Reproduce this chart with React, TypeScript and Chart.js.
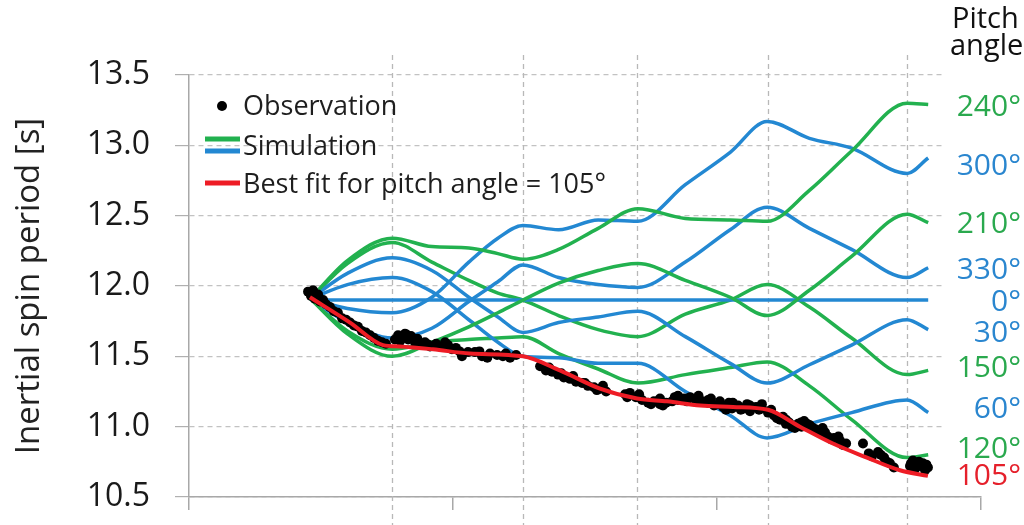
import React, { useEffect, useRef } from 'react';
import { Chart, registerables } from 'chart.js';

Chart.register(...registerables);

// ---------- data ----------
// common time knots of the simulated curves (arbitrary time units, axis 0..300)
const SIM_X = [46, 60, 77, 92, 106, 117, 126.5, 140, 155, 170, 188, 205, 219, 235, 251, 272, 280];

const SIM_240 = [11.91, 12.18, 12.34, 12.28, 12.27, 12.23, 12.19, 12.26, 12.41, 12.55, 12.48, 12.47, 12.46, 12.68, 12.96, 13.30, 13.29];
const SIM_300 = [11.91, 11.84, 11.81, 11.92, 12.17, 12.34, 12.43, 12.40, 12.47, 12.46, 12.72, 12.95, 13.17, 13.05, 12.98, 12.80, 12.91];
const SIM_210 = [11.91, 11.66, 11.50, 11.60, 11.71, 11.81, 11.90, 12.02, 12.11, 12.16, 12.04, 11.92, 11.79, 11.97, 12.21, 12.51, 12.45];
const SIM_330 = [11.91, 11.74, 11.63, 11.70, 11.89, 12.03, 12.15, 12.06, 12.01, 11.99, 12.17, 12.40, 12.56, 12.41, 12.26, 12.06, 12.13];
const SIM_0 = [11.9, 11.9, 11.9, 11.9, 11.9, 11.9, 11.9, 11.9, 11.9, 11.9, 11.9, 11.9, 11.9, 11.9, 11.9, 11.9, 11.9];
const SIM_30 = [11.91, 12.09, 12.20, 12.11, 11.92, 11.78, 11.67, 11.74, 11.78, 11.82, 11.64, 11.45, 11.31, 11.44, 11.58, 11.76, 11.69];
const SIM_150 = [11.91, 12.16, 12.31, 12.17, 12.04, 11.95, 11.90, 11.79, 11.69, 11.64, 11.80, 11.90, 12.01, 11.85, 11.63, 11.37, 11.40];
const SIM_60 = [11.91, 12.01, 12.06, 11.96, 11.76, 11.60, 11.50, 11.49, 11.45, 11.45, 11.25, 11.08, 10.92, 11.02, 11.10, 11.19, 11.10];
const SIM_120 = [11.91, 11.68, 11.55, 11.60, 11.62, 11.63, 11.64, 11.52, 11.41, 11.31, 11.37, 11.42, 11.46, 11.29, 11.05, 10.78, 10.80];

const FIT_X = [45.8, 61.0, 73.5, 79.9, 92.4, 106.4, 126.5, 140.5, 155.7, 169.7, 181.1, 193.6, 206.1, 219.3, 231.4, 243.9, 256.8, 269.3, 279.9];
const FIT_105 = [11.92, 11.74, 11.58, 11.57, 11.55, 11.52, 11.50, 11.40, 11.27, 11.20, 11.18, 11.15, 11.14, 11.12, 11.00, 10.88, 10.78, 10.69, 10.65];

const OBS_X = [
  45.1, 46.2, 47.0, 47.7, 48.9, 49.6, 50.8, 51.9, 53.4, 54.9, 56.4, 58.0, 59.5, 61.0, 62.5, 64.0, 65.5, 67.0, 68.6, 70.1, 71.6, 73.1, 74.6,
  78.0, 79.2, 80.7, 81.8, 83.0, 84.1, 85.6, 87.5, 89.4, 91.3, 93.6, 95.8, 98.1, 99.6, 101.1, 103.4, 105.7,
  108.3, 111.0, 114.0, 116.7, 118.9, 121.6, 123.9,
  133.0, 135.2, 137.5, 139.8, 142.0, 144.3, 146.6, 148.9, 151.1, 153.4, 155.7, 158.0,
  165.2, 167.0, 169.3, 171.6, 173.9, 176.1, 178.4, 180.7, 183.0, 185.2, 187.5, 189.8, 192.0, 194.3, 196.6, 198.9, 201.1, 203.4, 205.7, 208.0,
  210.2, 212.5, 214.8, 217.0, 219.3, 221.6, 223.9, 226.1, 228.4, 230.7, 233.0, 235.2, 237.5, 239.8, 242.0, 244.3, 246.6, 248.9,
  255.3, 258.7, 261.0, 263.3, 265.5, 267.0,
  273.1, 274.2, 275.4, 276.5, 277.7, 278.8, 279.9,
  178.4, 185.2, 196.6, 201.1, 206.0, 212.5, 217.0, 226.1, 232.0, 240.0, 246.0,
  80.0, 82.4, 86.5, 90.5, 97.0, 102.5, 110.0, 113.0, 120.0,
  136.4, 141.0, 145.5, 150.0, 154.5, 156.8,
  166.0, 170.5, 175.0, 179.5, 184.0, 188.6, 193.0, 197.7, 202.3, 204.5, 209.0, 211.4, 215.9, 220.5, 222.7, 225.0,
  227.3, 229.5, 231.8, 234.1, 236.4, 238.6, 240.9, 243.2, 245.5, 247.7,
  257.5, 262.0, 264.4, 273.5, 275.0, 276.0, 278.0, 279.3,
];
const OBS_Y = [
  11.96, 11.93, 11.97, 11.91, 11.94, 11.89, 11.90, 11.87, 11.85, 11.82, 11.81, 11.77, 11.76, 11.74, 11.72, 11.71, 11.68, 11.67, 11.65, 11.63, 11.61, 11.60, 11.59,
  11.62, 11.65, 11.64, 11.66, 11.62, 11.645, 11.60, 11.58, 11.60, 11.57, 11.59, 11.57, 11.58, 11.55, 11.56, 11.50, 11.53,
  11.53, 11.50, 11.52, 11.51, 11.50, 11.49, 11.51,
  11.43, 11.40, 11.39, 11.37, 11.35, 11.34, 11.32, 11.31, 11.29, 11.28, 11.27, 11.25,
  11.23, 11.24, 11.21, 11.19, 11.17, 11.18, 11.16, 11.17, 11.18, 11.19, 11.20, 11.21, 11.19, 11.18, 11.17, 11.15, 11.16, 11.12, 11.13, 11.15,
  11.13, 11.15, 11.14, 11.13, 11.10, 11.08, 11.05, 11.02, 11.00, 11.02, 11.04, 11.01, 10.98, 10.95, 10.93, 10.92, 10.90, 10.88,
  10.88, 10.79, 10.82, 10.78, 10.74, 10.71,
  10.72, 10.76, 10.71, 10.75, 10.72, 10.69, 10.71,
  11.20, 11.22, 11.19, 11.18, 11.17, 11.11, 11.16, 11.05, 11.00, 10.99, 10.93,
  11.61, 11.655, 11.625, 11.585, 11.60, 11.535, 11.535, 11.49, 11.52,
  11.42, 11.38, 11.36, 11.31, 11.26, 11.29,
  11.21, 11.23, 11.16, 11.15, 11.21, 11.18, 11.22, 11.20, 11.14, 11.17, 11.12, 11.16, 11.12, 11.12, 11.06, 11.07,
  11.03, 10.99, 11.03, 11.02, 10.99, 10.96, 10.96, 10.91, 10.92, 10.87,
  10.81, 10.80, 10.75, 10.74, 10.70, 10.73, 10.74, 10.73,
];

// epochs marked by dashed vertical lines
const EPOCHS = [76.9, 126.5, 169.7, 219.3, 272.0];

// pitch-angle labels at the right (text, y value of label centre)
const ANGLE_TEXT = ['240°', '300°', '210°', '330°', '0°', '30°', '150°', '60°', '120°', '105°'];
const ANGLE_Y = [13.29, 12.87, 12.455, 12.13, 11.90, 11.68, 11.43, 11.14, 10.855, 10.66];
const ANGLE_KIND = ['g', 'b', 'g', 'b', 'b', 'b', 'g', 'b', 'g', 'r'];

const LEGEND_TEXT = ['Observation', 'Simulation', 'Best fit for pitch angle = 105°'];

// ---------- styles ----------
const GREEN = '#22b14f';
const BLUE = '#2388d2';
const RED = '#ee1c25';
const LABEL_COL: Record<string, string> = { g: '#2aa94e', b: '#2a86cf', r: '#e5202b' };
const FONT = "'Open Sans', 'Noto Sans', sans-serif";

export default function App() {
  const ref = useRef<HTMLCanvasElement>(null);

  useEffect(() => {
    const canvas = ref.current;
    if (!canvas) return;

    const sim = (label: string, ys: number[], color: string) => ({
      label,
      data: SIM_X.map((x, i) => ({ x, y: ys[i] })),
      borderColor: color,
      backgroundColor: color,
      borderWidth: 3.5,
      pointRadius: 0,
      cubicInterpolationMode: 'monotone' as const,
      fill: false,
      order: 2,
    });

    const overlay = {
      id: 'overlay',
      beforeDatasetsDraw(chart: any) {
        const { ctx, chartArea, scales } = chart;
        ctx.save();
        // white panel behind right-hand labels
        ctx.fillStyle = '#ffffff';
        ctx.fillRect(943, 0, chart.width - 943, chartArea.bottom - 4);
        // dashed epoch lines
        ctx.strokeStyle = '#b8b8b8';
        ctx.lineWidth = 1.3;
        ctx.setLineDash([5, 4]);
        EPOCHS.forEach((e) => {
          const x = Math.round(scales.x.getPixelForValue(e)) + 0.5;
          ctx.beginPath();
          ctx.moveTo(x, chartArea.top - 20);
          ctx.lineTo(x, chart.height);
          ctx.stroke();
        });
        ctx.restore();
      },
      afterDraw(chart: any) {
        const { ctx, chartArea, scales } = chart;
        const L = chartArea.left;
        const T = chartArea.top;
        ctx.save();
        ctx.textBaseline = 'alphabetic';
        // legend
        ctx.font = `27px ${FONT}`;
        ctx.fillStyle = '#000';
        ctx.beginPath();
        ctx.arc(L + 33, T + 31, 5, 0, Math.PI * 2);
        ctx.fill();
        ctx.fillStyle = '#1e1e1e';
        ctx.textAlign = 'left';
        ctx.fillText(LEGEND_TEXT[0], L + 54, T + 40);
        ctx.lineWidth = 5;
        ctx.lineCap = 'butt';
        ctx.strokeStyle = GREEN;
        ctx.beginPath(); ctx.moveTo(L + 16, T + 64); ctx.lineTo(L + 51, T + 64); ctx.stroke();
        ctx.strokeStyle = BLUE;
        ctx.beginPath(); ctx.moveTo(L + 16, T + 76); ctx.lineTo(L + 51, T + 76); ctx.stroke();
        ctx.fillText(LEGEND_TEXT[1], L + 54, T + 80);
        ctx.strokeStyle = RED;
        ctx.beginPath(); ctx.moveTo(L + 16, T + 108); ctx.lineTo(L + 51, T + 108); ctx.stroke();
        ctx.fillText(LEGEND_TEXT[2], L + 54, T + 118);

        // pitch angle header
        ctx.font = `29px ${FONT}`;
        ctx.fillStyle = '#111';
        ctx.fillText('Pitch', 952, 28);
        ctx.fillText('angles', 950, 55);

        // angle labels
        ctx.font = `30px ${FONT}`;
        ctx.textAlign = 'right';
        ANGLE_TEXT.forEach((t, i) => {
          const y = scales.y.getPixelForValue(ANGLE_Y[i]) + 11;
          ctx.fillStyle = LABEL_COL[ANGLE_KIND[i]];
          ctx.fillText(t, 1021, y);
        });
        ctx.restore();
      },
    };

    const chart = new Chart(canvas, {
      type: 'line',
      data: {
        datasets: [
          {
            label: 'Best fit for pitch angle = 105°',
            data: FIT_X.map((x, i) => ({ x, y: FIT_105[i] })),
            borderColor: RED,
            backgroundColor: RED,
            borderWidth: 4,
            pointRadius: 0,
            cubicInterpolationMode: 'monotone',
            fill: false,
            order: 0,
          },
          {
            label: 'Observation',
            data: OBS_X.map((x, i) => ({ x, y: OBS_Y[i] })),
            showLine: false,
            pointRadius: 5,
            pointBackgroundColor: '#000',
            pointBorderWidth: 0,
            backgroundColor: '#000',
            borderColor: '#000',
            order: 1,
          },
          sim('240°', SIM_240, GREEN),
          sim('300°', SIM_300, BLUE),
          sim('210°', SIM_210, GREEN),
          sim('330°', SIM_330, BLUE),
          sim('0°', SIM_0, BLUE),
          sim('30°', SIM_30, BLUE),
          sim('150°', SIM_150, GREEN),
          sim('60°', SIM_60, BLUE),
          sim('120°', SIM_120, GREEN),
        ] as any,
      },
      options: {
        responsive: false,
        animation: false,
        devicePixelRatio: 1,
        layout: { padding: { top: 75, right: 43, bottom: 15, left: 0 } },
        plugins: { legend: { display: false }, tooltip: { enabled: false } },
        scales: {
          x: {
            type: 'linear',
            min: 0,
            max: 300,
            ticks: { display: false, stepSize: 100 },
            grid: { drawOnChartArea: false, drawTicks: true, tickLength: 13, color: '#a8a8a8', lineWidth: 1.5 },
            border: { display: true, color: '#a8a8a8', width: 1.5 },
            afterFit: (s: any) => { s.height = 13; s.paddingLeft = 0; s.paddingRight = 0; },
          },
          y: {
            type: 'linear',
            min: 10.5,
            max: 13.5,
            ticks: {
              stepSize: 0.5,
              padding: 25,
              color: '#1a1a1a',
              font: { family: FONT, size: 32 },
              callback: (v: any) => Number(v).toFixed(1),
            },
            grid: { color: '#c2c2c2', lineWidth: 1.2, tickLength: 14, tickColor: '#b0b0b0' },
            border: { display: true, color: '#a8a8a8', width: 1.5, dash: [5, 4] },
            title: {
              display: true,
              text: 'Inertial spin period [s]',
              color: '#222',
              font: { family: FONT, size: 33 },
              padding: { top: 10, bottom: 0 },
            },
            afterFit: (s: any) => { s.width = 189; s.paddingTop = 0; s.paddingBottom = 0; },
          },
        },
      } as any,
      plugins: [overlay],
    });

    return () => chart.destroy();
  }, []);

  return (
    <div style={{ position: 'fixed', left: 0, top: 0, width: 1024, height: 525, background: '#fff' }}>
      <canvas ref={ref} width={1024} height={525} style={{ display: 'block' }} />
    </div>
  );
}
